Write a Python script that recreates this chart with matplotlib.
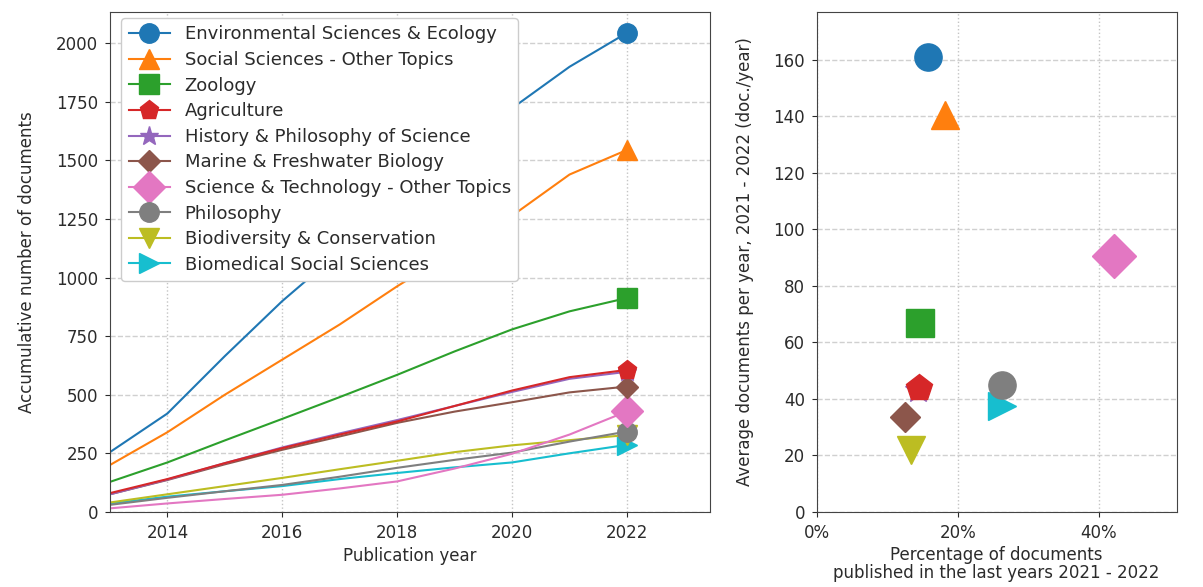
import matplotlib
matplotlib.use("Agg")
import matplotlib.pyplot as plt

years = [2013, 2014, 2015, 2016, 2017, 2018, 2019, 2020, 2021, 2022]

categories = [
    "Environmental Sciences & Ecology",
    "Social Sciences - Other Topics",
    "Zoology",
    "Agriculture",
    "History & Philosophy of Science",
    "Marine & Freshwater Biology",
    "Science & Technology - Other Topics",
    "Philosophy",
    "Biodiversity & Conservation",
    "Biomedical Social Sciences",
]

# accumulated number of documents per year
env_ecology   = [255, 420, 665, 900, 1110, 1310, 1510, 1723, 1900, 2045]
social_other  = [200, 340, 500, 650, 800, 963, 1115, 1264, 1440, 1545]
zoology       = [128, 211, 305, 397, 490, 585, 685, 779, 856, 913]
agriculture   = [80, 140, 208, 272, 330, 386, 452, 518, 575, 606]
history_phil  = [75, 138, 208, 275, 335, 392, 452, 512, 568, 598]
marine_fresh  = [75, 136, 203, 265, 322, 380, 428, 468, 510, 535]
scitech_other = [15, 36, 55, 73, 100, 130, 185, 248, 330, 429]
philosophy    = [30, 60, 88, 115, 150, 188, 222, 253, 300, 343]
biodiversity  = [40, 75, 110, 145, 182, 218, 255, 284, 306, 328]
biomedical    = [35, 65, 88, 110, 140, 166, 190, 211, 250, 286]

series = [env_ecology, social_other, zoology, agriculture, history_phil,
          marine_fresh, scitech_other, philosophy, biodiversity, biomedical]

colors = ["tab:blue", "tab:orange", "tab:green", "tab:red", "tab:purple",
          "tab:brown", "tab:pink", "tab:gray", "tab:olive", "tab:cyan"]
markers = ["o", "^", "s", "p", "*", "D", "D", "o", "v", ">"]
msize = [14, 14, 14, 14, 14, 11, 16, 14, 14, 14]

y_ticks_left = [0, 250, 500, 750, 1000, 1250, 1500, 1750, 2000]
x_ticks_left = [2014, 2016, 2018, 2020, 2022]
x_ticks_right = [0, 20, 40]
y_ticks_right = [0, 20, 40, 60, 80, 100, 120, 140, 160]

plt.rcParams["font.family"] = ["DejaVu Sans"]
ink = "#2b2b2b"
plt.rcParams["text.color"] = ink
plt.rcParams["axes.labelcolor"] = ink
plt.rcParams["xtick.color"] = ink
plt.rcParams["ytick.color"] = ink
plt.rcParams["axes.edgecolor"] = "#444444"

fig = plt.figure(figsize=(12.03, 5.87), dpi=100)
ax1 = fig.add_axes([0.0914, 0.128, 0.499, 0.852])
ax2 = fig.add_axes([0.679, 0.128, 0.299, 0.852])

# draw in reverse so the first categories sit on top
handles = {}
for i in reversed(range(len(series))):
    ln, = ax1.plot(years, series[i], color=colors[i], lw=1.5,
                   marker=markers[i], markersize=msize[i], markevery=[-1],
                   label=categories[i])
    handles[i] = ln

ax1.set_xlim(2013, 2023.45)
ax1.set_ylim(0, 2135)
ax1.set_xticks(x_ticks_left)
ax1.set_yticks(y_ticks_left)
ax1.tick_params(labelsize=12, pad=5)
ax1.set_xlabel("Publication year", fontsize=12, labelpad=4)
ax1.set_ylabel("Accumulative number of documents", fontsize=12, labelpad=14)
ax1.grid(axis="x", linestyle=":", color="#c4c4c4", lw=1)
ax1.grid(axis="y", linestyle="--", color="#d0d0d0", lw=1)
ax1.legend([handles[i] for i in range(len(series))], categories,
           loc="upper left", fontsize=13, labelspacing=0.42, handlelength=2.3,
           bbox_to_anchor=(0.004, 1.005), framealpha=1, edgecolor="#cccccc")

# rate and share of the last two years, from the accumulated series
i2020 = years.index(2020)
for i in reversed(range(len(series))):
    s = series[i]
    recent = s[-1] - s[i2020]
    avg_per_year = recent / 2
    share = 100 * recent / s[-1]
    ax2.plot([share], [avg_per_year], linestyle="none", marker=markers[i],
             color=colors[i], markersize=msize[i] * 1.4)

ax2.set_xlim(0, 51)
ax2.set_ylim(0, 177)
ax2.set_xticks(x_ticks_right)
ax2.set_xticklabels([f"{t}%" for t in x_ticks_right])
ax2.set_yticks(y_ticks_right)
ax2.tick_params(labelsize=12, pad=5)
ax2.set_xlabel("Percentage of documents\npublished in the last years 2021 - 2022",
               fontsize=12, linespacing=1.0, labelpad=3)
ax2.set_ylabel("Average documents per year, 2021 - 2022 (doc./year)",
               fontsize=12, labelpad=14)
ax2.grid(axis="x", linestyle=":", color="#c4c4c4", lw=1)
ax2.grid(axis="y", linestyle="--", color="#d0d0d0", lw=1)

fig.savefig("out.png", dpi=100)
